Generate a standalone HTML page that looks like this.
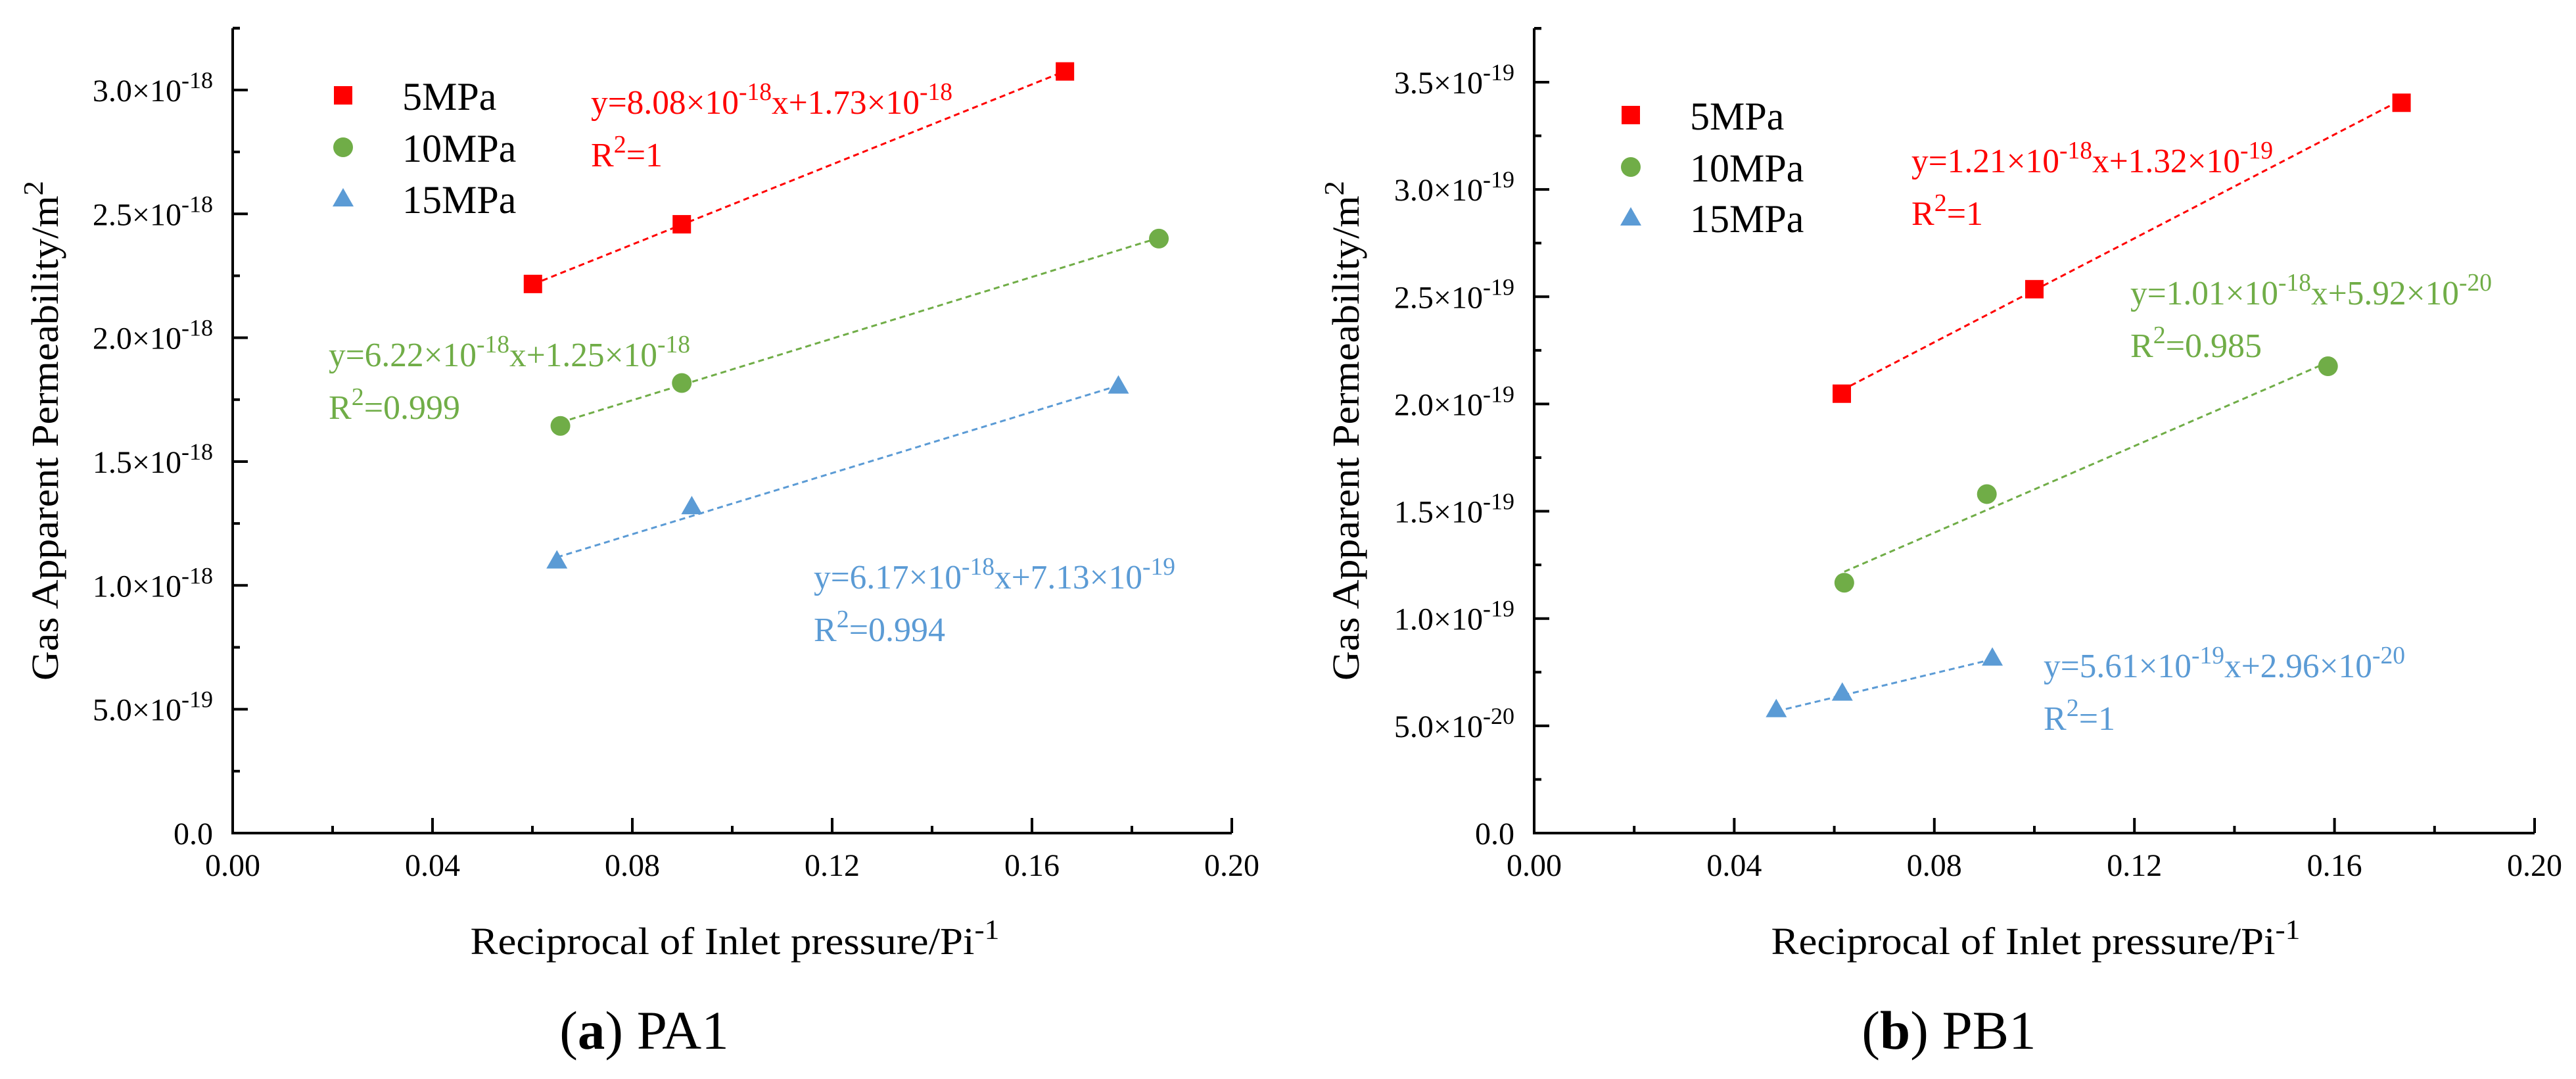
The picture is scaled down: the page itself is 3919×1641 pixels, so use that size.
<!DOCTYPE html>
<html><head><meta charset="utf-8">
<style>
html,body{margin:0;padding:0;background:#fff;}
svg{display:block;}
svg, svg text, svg tspan{font-family:"Liberation Serif","DejaVu Serif",serif;}
</style></head>
<body>
<svg id="fig" xmlns="http://www.w3.org/2000/svg" width="3919" height="1641" viewBox="0 0 3919 1641" font-family="Liberation Serif, DejaVu Serif, serif"></svg>
<script>
// ---- data: panel (a) PA1, permeability in units of 1e-18 m^2 ----
const xA5 = [0.0601, 0.0899, 0.1666];
const yA5 = [2.217, 2.458, 3.075];
const xA10 = [0.0656, 0.0899, 0.1854];
const yA10 = [1.644, 1.817, 2.400];
const xA15 = [0.0649, 0.0919, 0.1773];
const yA15 = [1.100, 1.319, 1.806];
const fitA_slope = [8.08, 6.22, 6.17];
const fitA_icpt = [1.73, 1.25, 0.713];
const yTicksA = [0, 0.5, 1.0, 1.5, 2.0, 2.5, 3.0];
const yTickLabelsA = [["0.0",""],["5.0×10","-19"],["1.0×10","-18"],["1.5×10","-18"],["2.0×10","-18"],["2.5×10","-18"],["3.0×10","-18"]];
// ---- data: panel (b) PB1, permeability in units of 1e-19 m^2 ----
const xB5 = [0.0615, 0.1000, 0.1734];
const yB5 = [2.048, 2.535, 3.404];
const xB10 = [0.0620, 0.0905, 0.1587];
const yB10 = [1.167, 1.580, 2.176];
const xB15 = [0.0484, 0.0616, 0.0916];
const yB15 = [0.577, 0.654, 0.817];
const fitB_slope = [12.1, 10.1, 5.61];
const fitB_icpt = [1.32, 0.592, 0.296];
const yTicksB = [0, 0.5, 1.0, 1.5, 2.0, 2.5, 3.0, 3.5];
const yTickLabelsB = [["0.0",""],["5.0×10","-20"],["1.0×10","-19"],["1.5×10","-19"],["2.0×10","-19"],["2.5×10","-19"],["3.0×10","-19"],["3.5×10","-19"]];
const xTicks = [0, 0.04, 0.08, 0.12, 0.16, 0.20];
const xTickLabels = ["0.00","0.04","0.08","0.12","0.16","0.20"];
const seriesNames = ["5MPa","10MPa","15MPa"];
const eqA = [["y=8.08×10","-18","x+1.73×10","-18"],["y=6.22×10","-18","x+1.25×10","-18"],["y=6.17×10","-18","x+7.13×10","-19"]];
const r2A = ["1","0.999","0.994"];
const eqB = [["y=1.21×10","-18","x+1.32×10","-19"],["y=1.01×10","-18","x+5.92×10","-20"],["y=5.61×10","-19","x+2.96×10","-20"]];
const r2B = ["1","0.985","1"];

const COLORS = ["#ff0000","#70ad47","#5b9bd5"];
const NS = "http://www.w3.org/2000/svg";
const svg = document.getElementById("fig");
function mk(tag, attrs, parent){
  const e = document.createElementNS(NS, tag);
  for (const k in attrs) e.setAttribute(k, attrs[k]);
  (parent||svg).appendChild(e);
  return e;
}
function tsp(parent, txt, sup, size){
  const t = document.createElementNS(NS,"tspan");
  if (sup){ t.setAttribute("font-size", size); t.setAttribute("baseline-shift","super"); }
  t.textContent = txt; parent.appendChild(t); return t;
}

function panel(cfg){
  const g = mk("g",{});
  
  
  const X = v => cfg.x0 + v/0.2*(cfg.x1-cfg.x0);
  const Y = v => cfg.yb - v*cfg.ppu;
  const ax = mk("path",{d:`M${cfg.x0} ${cfg.ytop} V${cfg.yb} H${cfg.x1}`, fill:"none", stroke:"#000","stroke-width":4},g);
  
  
  mk("line",{x1:cfg.x0,y1:cfg.ytop,x2:cfg.x0+11,y2:cfg.ytop,stroke:"#000","stroke-width":4},g);
  xTicks.forEach((v,i)=>{
    const x = X(v);
    mk("line",{x1:x,y1:cfg.yb,x2:x,y2:cfg.yb-23,stroke:"#000","stroke-width":4},g);
    if (i<xTicks.length-1){ const xm = X(v+0.02); mk("line",{x1:xm,y1:cfg.yb,x2:xm,y2:cfg.yb-11,stroke:"#000","stroke-width":4},g); }
    const t = mk("text",{x:x,y:1332,"font-size":48,"text-anchor":"middle",fill:"#000"},g);
    
    
    t.textContent = xTickLabels[i];
  });
  cfg.yTicks.forEach((v,i)=>{
    const y = Y(v);
    if (i>0) mk("line",{x1:cfg.x0,y1:y,x2:cfg.x0+23,y2:y,stroke:"#000","stroke-width":4},g);
    const ym = Y(v+0.25); mk("line",{x1:cfg.x0,y1:ym,x2:cfg.x0+11,y2:ym,stroke:"#000","stroke-width":4},g);
    const t = mk("text",{x:cfg.x0-30,y:y+17,"font-size":48,"text-anchor":"end",fill:"#000"},g);
    
    
    tsp(t, cfg.yLabels[i][0]); if (cfg.yLabels[i][1]) tsp(t, cfg.yLabels[i][1], true, 36);
  });
  const yt = mk("text",{x:0,y:0,"font-size":58,"text-anchor":"middle",fill:"#000",transform:`translate(${cfg.ytx},655) rotate(-90)`,textLength:760,lengthAdjust:"spacingAndGlyphs"},g);
  
  
  tsp(yt,"Gas Apparent Permeability/m"); tsp(yt,"2",true,42);
  const xt = mk("text",{x:cfg.xtx,y:1451,"font-size":58,"text-anchor":"middle",fill:"#000",textLength:805,lengthAdjust:"spacingAndGlyphs"},g);
  
  
  tsp(xt,"Reciprocal of Inlet pressure/Pi"); tsp(xt,"-1",true,42);
  const cap = mk("text",{x:cfg.capx,y:1595,"font-size":83,"text-anchor":"middle",fill:"#000"},g);
  
  
  tsp(cap,"("); const b=tsp(cap,cfg.letter); b.setAttribute("font-weight","bold"); tsp(cap,") "+cfg.name);
  cfg.series.forEach((s,k)=>{
    const c = COLORS[k];
    const xmin = Math.min(...s.x), xmax = Math.max(...s.x);
    const fl = mk("line",{x1:X(xmin),y1:Y(cfg.slope[k]*xmin+cfg.icpt[k]),x2:X(xmax),y2:Y(cfg.slope[k]*xmax+cfg.icpt[k]),stroke:c,"stroke-width":3,"stroke-dasharray":"9 6"},g);
    
    
    s.x.forEach((xv,j)=>{
      const px=X(xv), py=Y(s.y[j]); let m;
      if (k===0) m = mk("rect",{x:px-14,y:py-14,width:28,height:28,fill:c},g);
      else if (k===1) m = mk("circle",{cx:px,cy:py,r:15,fill:c},g);
      else m = mk("polygon",{points:`${px},${py-16} ${px+16},${py+12} ${px-16},${py+12}`,fill:c},g);
      
      
    });
    const ly = cfg.legY[k]; let lm;
    if (k===0) lm = mk("rect",{x:cfg.legX-14,y:ly-14,width:28,height:28,fill:c},g);
    else if (k===1) lm = mk("circle",{cx:cfg.legX,cy:ly,r:15,fill:c},g);
    else lm = mk("polygon",{points:`${cfg.legX},${ly-16} ${cfg.legX+16},${ly+12} ${cfg.legX-16},${ly+12}`,fill:c},g);
    
    
    const lt = mk("text",{x:cfg.legX+90,y:ly+22,"font-size":60,fill:"#000"},g);
    
    
    lt.textContent = seriesNames[k];
    const e = cfg.eq[k], ep = cfg.eqPos[k];
    const et = mk("text",{x:ep[0],y:ep[1],"font-size":52,fill:c,textLength:550,lengthAdjust:"spacingAndGlyphs"},g);
    
    
    tsp(et,e[0]); tsp(et,e[1],true,38); tsp(et,e[2]); tsp(et,e[3],true,38);
    const rt = mk("text",{x:ep[0],y:ep[1]+80,"font-size":52,fill:c},g);
    
    
    tsp(rt,"R"); tsp(rt,"2",true,38); tsp(rt,"="+cfg.r2[k]);
  });
}

panel({id:"chart-pa1", letter:"a", name:"PA1", x0:354, x1:1874, yb:1267, ytop:43, ppu:376.7,
  yTicks:yTicksA, yLabels:yTickLabelsA, ytx:88, xtx:1118, capx:980,
  series:[{x:xA5,y:yA5},{x:xA10,y:yA10},{x:xA15,y:yA15}], slope:fitA_slope, icpt:fitA_icpt,
  legX:522, legY:[145,224,302], eq:eqA, r2:r2A, eqPos:[[899,173],[500,557],[1238,895]]});
panel({id:"chart-pb1", letter:"b", name:"PB1", x0:2334, x1:3856, yb:1267, ytop:43, ppu:326.3,
  yTicks:yTicksB, yLabels:yTickLabelsB, ytx:2067, xtx:3097, capx:2965,
  series:[{x:xB5,y:yB5},{x:xB10,y:yB10},{x:xB15,y:yB15}], slope:fitB_slope, icpt:fitB_icpt,
  legX:2481, legY:[175,254,331], eq:eqB, r2:r2B, eqPos:[[2908,262],[3241,463],[3109,1030]]});
</script>
</body></html>
